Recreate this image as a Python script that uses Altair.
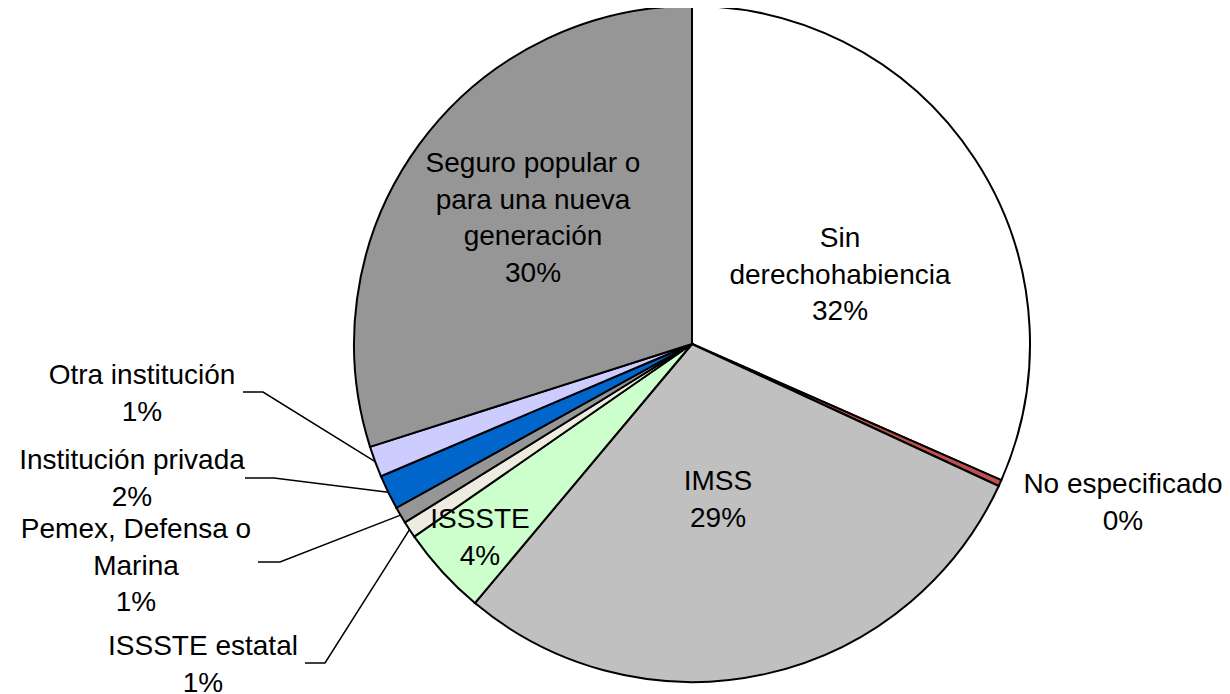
import math
import altair as alt
import pandas as pd

# ---- data ----
names = [
    "Sin\nderechohabiencia",
    "No especificado",
    "IMSS",
    "ISSSTE",
    "ISSSTE estatal",
    "Pemex, Defensa o\nMarina",
    "Institución privada",
    "Otra institución",
    "Seguro popular o\npara una nueva\ngeneración",
]
values = [31.6, 0.3, 29.2, 4.25, 0.8, 0.8, 1.65, 1.48, 29.92]
colors = ["#FFFFFF", "#C0504D", "#C0C0C0", "#CCFFCC", "#EEECE1",
          "#969696", "#0066CC", "#CCCCFF", "#969696"]

# ---- layout (page pixels) ----
ORIGIN = 8
CX, CY, R = 692, 344, 338
FONT = "Liberation Sans"
FS = 28
LH = 36.5
# label anchor: centre x, first baseline y
label_pos = {
    "Sin\nderechohabiencia": (840, 247),
    "No especificado": (1123, 493),
    "IMSS": (718, 490),
    "ISSSTE": (480, 528),
    "ISSSTE estatal": (203, 655),
    "Pemex, Defensa o\nMarina": (136, 538),
    "Institución privada": (132, 469),
    "Otra institución": (142, 384),
    "Seguro popular o\npara una nueva\ngeneración": (533, 172),
}
# leader lines: horizontal segment (x0, x1, y) next to the label
leaders = {
    "Otra institución": (243, 263, 392),
    "Institución privada": (245, 274, 478),
    "Pemex, Defensa o\nMarina": (258, 280, 562),
    "ISSSTE estatal": (305, 325, 663),
}

total = sum(values)
pie = pd.DataFrame({
    "name": names,
    "value": values,
    "idx": list(range(len(names))),
})

labels = pd.DataFrame({
    "text": [f"{n}\n{round(v)}%" for n, v in zip(names, values)],
    "px": [label_pos[n][0] - ORIGIN for n in names],
    "py": [label_pos[n][1] - ORIGIN for n in names],
})

# mid angle of each slice (from data) for the leader-line end on the pie edge
rows = []
cum = 0.0
for n, v in zip(names, values):
    mid = (cum + v / 2) / total * 2 * math.pi
    cum += v
    if n in leaders:
        x0, x1, y = leaders[n]
        ex = CX + R * math.sin(mid)
        ey = CY - R * math.cos(mid)
        for k, (px, py) in enumerate([(x0, y), (x1, y), (ex, ey)]):
            rows.append({"key": n, "ord": k, "px": px - ORIGIN, "py": py - ORIGIN})
lines = pd.DataFrame(rows)

arcs = alt.Chart(pie).mark_arc(
    outerRadius=R, stroke="black", strokeWidth=2
).encode(
    theta=alt.Theta("value:Q", stack=True),
    order=alt.Order("idx:Q"),
    color=alt.Color("name:N", scale=alt.Scale(domain=names, range=colors), legend=None),
    x=alt.value(CX - ORIGIN),
    y=alt.value(CY - ORIGIN),
)

leader = alt.Chart(lines).mark_line(color="black", strokeWidth=1.5).encode(
    x=alt.X("px:Q", scale=None),
    y=alt.Y("py:Q", scale=None),
    detail="key:N",
    order="ord:Q",
)

text = alt.Chart(labels).mark_text(
    font=FONT, fontSize=FS, lineHeight=LH, lineBreak="\n",
    align="center", baseline="alphabetic", color="black",
).encode(
    x=alt.X("px:Q", scale=None),
    y=alt.Y("py:Q", scale=None),
    text="text:N",
)

chart = alt.layer(arcs, leader, text).properties(
    width=1214, height=686, padding=0,
    autosize=alt.AutoSizeParams(type="none"),
).configure_view(strokeWidth=0)

chart.save("out.html", embed_options={"renderer": "svg", "actions": False})
